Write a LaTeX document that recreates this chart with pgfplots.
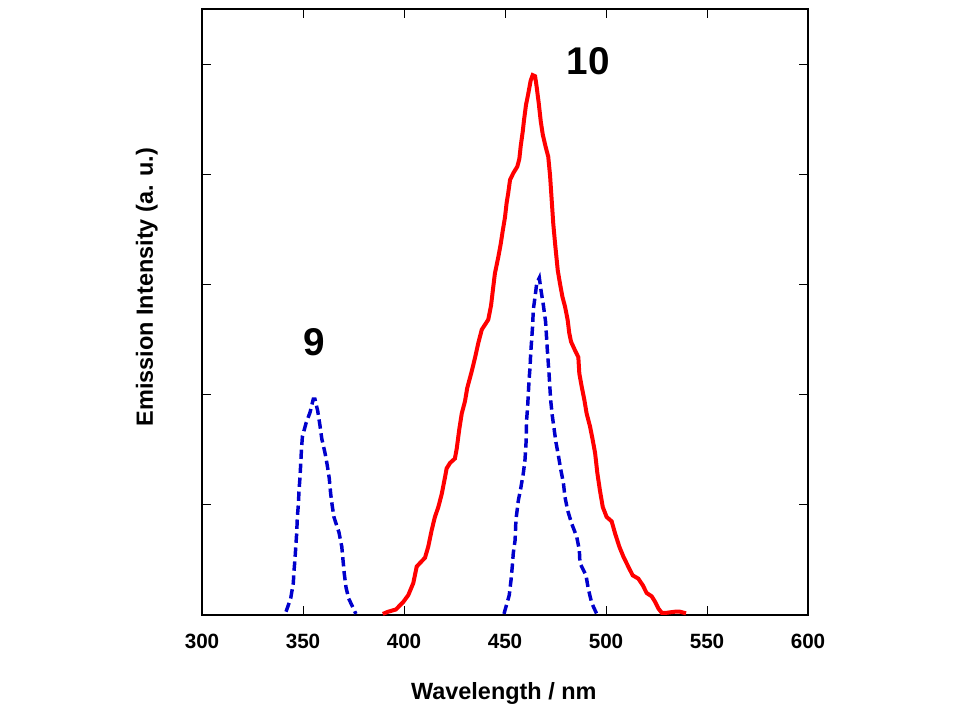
\documentclass[border=0pt]{standalone}
\usepackage{pgfplots}
\pgfplotsset{compat=1.18}
\usepackage{fontspec}
\setmainfont{Liberation Sans}
\definecolor{curvered}{RGB}{255,0,0}
\definecolor{curveblue}{RGB}{0,0,204}
\begin{document}
\begin{tikzpicture}
\path[use as bounding box] (0,0) rectangle (720pt,540pt);
\begin{axis}[
  at={(151.5pt,78.75pt)}, anchor=south west,
  width=454.5pt, height=454.5pt, scale only axis,
  xmin=300, xmax=600, ymin=0, ymax=5.5,
  xtick={300,350,...,600},
  ytick={0,1,2,3,4,5},
  yticklabels={},
  tick align=inside,
  major tick length=7pt,
  tick style={black, line width=0.6pt},
  axis line style={black, line width=0.8pt},
  xtick pos=both, ytick pos=both,
  /pgf/number format/assume math mode=true,
  /pgf/number format/1000 sep={},
  xticklabel style={font=\fontsize{15.5}{18}\selectfont\bfseries, yshift=-11pt},
  xlabel={Wavelength / nm},
  ylabel={Emission Intensity (a. u.)},
  label style={font=\fontsize{17.6}{20}\selectfont\bfseries},
  xlabel style={at={(axis description cs:0.498,-0.130)}, anchor=center},
  ylabel style={at={(axis description cs:-0.091,0.541)}, anchor=center, rotate=0},
  clip=false,
]
% curve 10 (red, solid)
\addplot[curvered, line width=3pt, sharp plot] coordinates {
(389.5,0.01) (392.2,0.03) (396.0,0.05) (399.7,0.12) (402.1,0.18) (404.6,0.29)
(406.3,0.44) (410.4,0.52) (412.0,0.62) (413.7,0.77) (415.3,0.89) (417.0,0.98)
(418.7,1.10) (420.3,1.25) (421.1,1.33) (422.8,1.38) (425.2,1.42) (426.1,1.51)
(427.4,1.69) (428.6,1.83) (430.2,1.94) (431.3,2.06) (433.5,2.21) (435.1,2.33)
(436.8,2.47) (438.5,2.59) (441.7,2.68) (443.1,2.81) (444.2,2.98) (445.0,3.10)
(446.7,3.25) (447.9,3.37) (448.9,3.49) (450.0,3.61) (450.8,3.74) (451.6,3.83)
(452.5,3.95) (454.1,4.01) (456.1,4.07) (457.1,4.14) (457.8,4.26) (458.8,4.39)
(459.4,4.49) (460.4,4.63) (461.5,4.73) (462.7,4.85) (463.7,4.90) (464.9,4.89)
(465.7,4.79) (466.8,4.63) (467.7,4.48) (468.7,4.36) (470.1,4.25) (471.4,4.16)
(472.3,3.99) (473.1,3.77) (473.9,3.55) (474.8,3.37) (476.1,3.13) (477.2,3.01)
(478.4,2.89) (479.7,2.80) (481.0,2.68) (481.8,2.56) (482.7,2.48) (484.7,2.40)
(486.3,2.34) (486.8,2.19) (488.0,2.07) (489.3,1.95) (490.4,1.83) (492.1,1.71)
(493.4,1.59) (494.6,1.47) (495.7,1.29) (497.0,1.13) (498.4,0.98) (500.3,0.89)
(502.8,0.85) (504.5,0.74) (506.6,0.62) (508.6,0.53) (511.0,0.44) (513.2,0.36)
(516.0,0.33) (518.2,0.27) (520.1,0.20) (522.6,0.17) (524.3,0.12) (525.9,0.06)
(527.6,0.02) (530.0,0.02) (534.2,0.03) (536.6,0.03) (539.6,0.015)
};
% curve 9 (blue, dashed)
\addplot[curveblue, line width=2.6pt, dash pattern=on 7pt off 3.5pt, sharp plot] coordinates {
(341.6,0.03) (343.9,0.15) (345.2,0.29) (345.5,0.39) (346.0,0.50) (346.5,0.64)
(346.9,0.75) (347.2,0.89) (347.7,1.00) (348.0,1.12) (348.5,1.25) (348.9,1.38)
(349.2,1.49) (349.7,1.62) (351.5,1.74) (353.5,1.84) (355.1,1.96) (355.9,1.96)
(357.3,1.85) (358.4,1.72) (359.3,1.60) (360.9,1.47) (362.0,1.36) (363.0,1.24)
(363.7,1.10) (364.4,1.00) (365.3,0.89) (367.8,0.75) (369.2,0.62) (369.8,0.50)
(370.4,0.38) (371.3,0.25) (372.6,0.15) (376.2,0.01)
};
% curve 10 (blue, dashed)
\addplot[curveblue, line width=2.6pt, dash pattern=on 7pt off 3.5pt, sharp plot] coordinates {
(449.5,0.01) (452.1,0.18) (453.0,0.32) (453.6,0.44) (454.1,0.56) (455.0,0.68)
(455.4,0.86) (456.6,1.04) (457.8,1.15) (459.1,1.29) (459.9,1.41) (460.4,1.56)
(460.7,1.77) (461.2,1.89) (461.9,2.13) (462.4,2.25) (462.7,2.37) (463.2,2.50)
(463.7,2.63) (464.0,2.77) (464.9,2.89) (465.7,3.01) (467.0,3.06) (467.8,2.95)
(469.0,2.81) (470.1,2.66) (470.9,2.42) (471.8,2.19) (472.6,1.95) (473.4,1.81)
(474.3,1.69) (475.2,1.57) (476.4,1.45) (477.6,1.32) (478.9,1.20) (479.7,1.07)
(481.0,0.95) (483.0,0.83) (485.5,0.71) (486.8,0.59) (487.1,0.47) (490.1,0.36)
(491.2,0.24) (492.9,0.11) (495.4,0.01)
};
\node[font=\fontsize{29}{32}\selectfont\bfseries, anchor=center] at (axis cs:355.4,2.48) {9};
\node[font=\fontsize{29}{32}\selectfont\bfseries, anchor=center] at (axis cs:491.1,5.03) {10};
\end{axis}
\end{tikzpicture}
\end{document}
